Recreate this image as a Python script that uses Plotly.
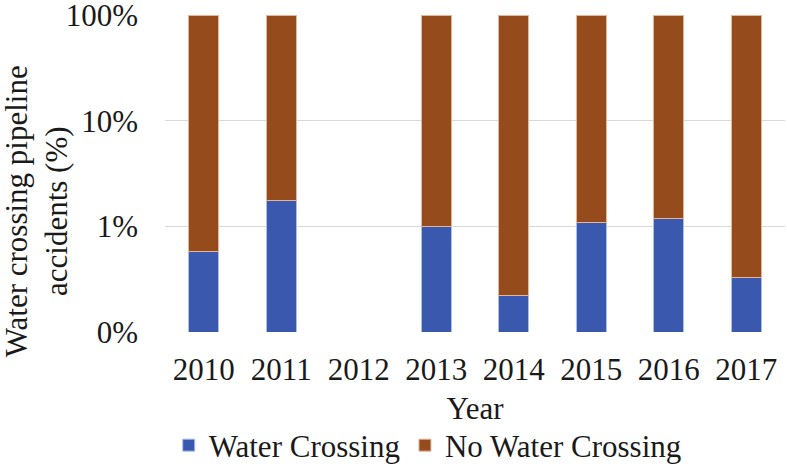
import plotly.graph_objects as go

#### Data ####
years = ["2010", "2011", "2012", "2013", "2014", "2015", "2016", "2017"]
water_crossing = [0.57, 1.75, None, 0.99, 0.22, 1.08, 1.19, 0.325]
no_water_crossing = [99.43, 98.25, None, 99.01, 99.78, 98.92, 98.81, 99.675]
tick_vals = [0.1, 1, 10, 100]
tick_text = ["0%", "1%", "10%", "100%"]

TXT = dict(family="Liberation Serif", size=31, color="#1a1a1a")

#### Build figure ####
fig = go.Figure()
fig.add_trace(go.Bar(x=years, y=water_crossing, name="Water Crossing",
                     marker=dict(color="#3A58AE", line=dict(color="#A8C0E8", width=1))))
fig.add_trace(go.Bar(x=years, y=no_water_crossing, name="No Water Crossing",
                     marker=dict(color="#964B1D", line=dict(color="#E3B79A", width=1))))

fig.add_annotation(text="Water crossing pipeline<br>accidents (%)", textangle=-90,
                   xref="paper", yref="paper", x=-0.207, y=0.38,
                   xanchor="center", yanchor="middle", showarrow=False, font=TXT)

fig.update_layout(
    barmode="stack",
    bargap=0.61,
    width=787, height=467,
    margin=dict(l=165, r=2, t=15, b=135, autoexpand=False),
    plot_bgcolor="white",
    paper_bgcolor="white",
    font=TXT,
    legend=dict(orientation="h", x=0.006, xanchor="left", y=-0.358, yanchor="middle",
                font=TXT, itemwidth=30, traceorder="normal"),
    xaxis=dict(title=dict(text="Year", standoff=11, font=TXT), showline=False, ticks="",
               tickfont=TXT, ticklabelstandoff=16, automargin=False),
    yaxis=dict(type="log", range=[-1.003, 2.003], tickvals=tick_vals, ticktext=tick_text,
               showgrid=True, gridcolor="#D9D9D9", gridwidth=1, zeroline=False,
               showline=False, ticks="", tickfont=TXT, ticklabelstandoff=26,
               ticklabeloverflow="allow", automargin=False),
)

# drop the default 8px page margin so the figure sits at the window corner
fig.write_html("out.html", config={"displayModeBar": False},
               post_script="document.body.style.margin='0';")
